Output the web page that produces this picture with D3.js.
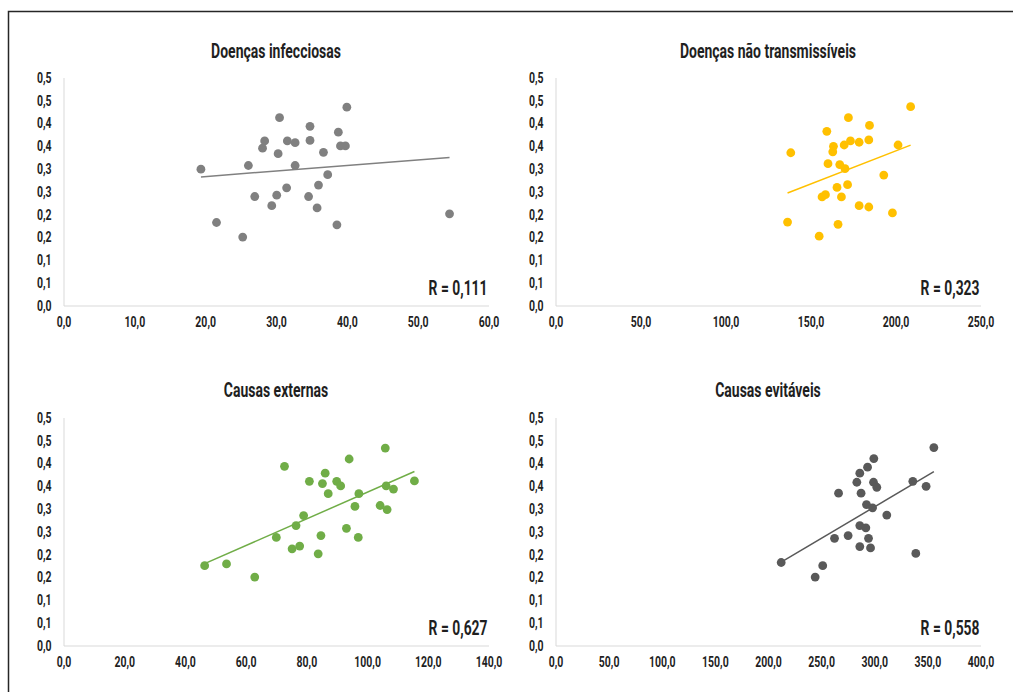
<!DOCTYPE html>
<html>
<head>
<meta charset="utf-8">
<script src="https://cdn.jsdelivr.net/npm/d3@7"></script>
<style>
  html, body { margin: 0; padding: 0; background: #ffffff; }
  svg { display: block; }
  text { font-family: Roboto, "Liberation Sans", sans-serif; font-weight: bold; fill: #1f1f1f; }
</style>
</head>
<body>
<svg id="chart" width="1013" height="692"></svg>
<script>
// Shared y values: proportion (0–0.5), one per state
// Panel 1 — Doenças infecciosas
const infecX = [19.4, 21.6, 25.3, 26.1, 27.0, 28.1, 28.4, 29.4, 30.1, 30.3, 30.5, 31.5, 31.6, 32.7, 32.7, 34.6, 34.8, 34.8, 35.8, 36.0, 36.7, 37.3, 38.6, 38.8, 39.1, 39.8, 40.0, 54.5];
const infecY = [0.299, 0.182, 0.150, 0.307, 0.239, 0.345, 0.361, 0.219, 0.242, 0.333, 0.412, 0.258, 0.361, 0.357, 0.307, 0.239, 0.362, 0.393, 0.214, 0.264, 0.336, 0.287, 0.177, 0.380, 0.350, 0.350, 0.435, 0.201];

// Panel 2 — Doenças não transmissíveis
const dntX = [136.5, 138.4, 155.1, 156.8, 158.8, 159.6, 160.3, 163.1, 163.5, 165.6, 166.2, 167.2, 168.2, 169.8, 170.3, 171.8, 172.3, 173.5, 178.6, 178.6, 184.3, 184.3, 184.7, 193.1, 198.2, 201.5, 208.9];
const dntY = [0.183, 0.335, 0.152, 0.238, 0.243, 0.382, 0.311, 0.337, 0.349, 0.259, 0.178, 0.309, 0.238, 0.352, 0.300, 0.265, 0.412, 0.361, 0.358, 0.219, 0.363, 0.216, 0.395, 0.286, 0.203, 0.352, 0.436];

// Panel 3 — Causas externas
const extX = [46.5, 53.7, 63.0, 70.1, 72.8, 75.3, 76.6, 77.8, 79.1, 81.0, 83.9, 84.8, 85.3, 86.2, 87.2, 90.0, 91.3, 93.2, 94.1, 96.0, 97.1, 97.3, 104.3, 106.0, 106.3, 106.6, 108.7, 115.6];
const extY = [0.175, 0.179, 0.150, 0.237, 0.393, 0.212, 0.263, 0.218, 0.285, 0.360, 0.201, 0.241, 0.355, 0.378, 0.333, 0.360, 0.350, 0.257, 0.409, 0.305, 0.237, 0.333, 0.307, 0.433, 0.350, 0.298, 0.343, 0.361];

// Panel 4 — Causas evitáveis
const evitX = [212.4, 244.4, 251.5, 262.6, 266.4, 275.4, 283.6, 286.4, 286.4, 286.4, 287.6, 292.1, 292.7, 293.7, 294.6, 296.5, 298.4, 299.3, 299.6, 302.4, 311.8, 336.3, 339.1, 348.8, 356.1];
const evitY = [0.182, 0.150, 0.175, 0.235, 0.334, 0.241, 0.358, 0.378, 0.263, 0.217, 0.334, 0.258, 0.309, 0.391, 0.235, 0.214, 0.302, 0.358, 0.410, 0.347, 0.286, 0.360, 0.202, 0.349, 0.434];

const titles = ["Doenças infecciosas", "Doenças não transmissíveis", "Causas externas", "Causas evitáveis"];
const rLabels = ["R = 0,111", "R = 0,323", "R = 0,627", "R = 0,558"];
const xMax = [60, 250, 140, 400];
const xStep = [10, 50, 20, 50];
const yTicks = [0, 0.05, 0.10, 0.15, 0.20, 0.25, 0.30, 0.35, 0.40, 0.45, 0.50];
const yTickLabels = ["0,0", "0,1", "0,1", "0,2", "0,2", "0,3", "0,3", "0,4", "0,4", "0,5", "0,5"];
const colors = ["#808080", "#ffc000", "#70ad47", "#595959"];

const seriesX = [infecX, dntX, extX, evitX];
const seriesY = [infecY, dntY, extY, evitY];

const svg = d3.select("#chart");

// horizontally condense text around its anchor x
function condense(sel, sx) {
  sel.each(function () {
    const t = d3.select(this);
    const x0 = +(t.attr("x") || 0);
    t.attr("x", x0 / sx).attr("transform", `scale(${sx},1)`);
  });
}

// outer frame
svg.append("rect")
  .attr("x", 8.5).attr("y", 11.5)
  .attr("width", 1010).attr("height", 700)
  .attr("fill", "none").attr("stroke", "#262626").attr("stroke-width", 1.5);

// plot areas (pixel edges) and title anchors
const panels = [
  { l: 63.5, r: 488.5, t: 77.5, b: 305.5, tx: 276, ty: 58 },
  { l: 555.5, r: 980.5, t: 77.5, b: 305.5, tx: 768, ty: 58 },
  { l: 63.5, r: 488.5, t: 417.5, b: 645.5, tx: 276, ty: 397 },
  { l: 555.5, r: 980.5, t: 417.5, b: 645.5, tx: 768, ty: 397 }
];

const fmtX = v => d3.format(".1f")(v).replace(".", ",");

panels.forEach((p, i) => {
  const g = svg.append("g");
  const x = d3.scaleLinear().domain([0, xMax[i]]).range([p.l, p.r]);
  const y = d3.scaleLinear().domain([0, 0.5]).range([p.b, p.t]);

  // title
  const title = g.append("text")
    .attr("x", p.tx).attr("y", p.ty)
    .attr("text-anchor", "middle")
    .style("font-size", "20px")
    .text(titles[i]);
  condense(title, 0.70);

  // y axis
  const yAxis = d3.axisLeft(y).tickValues(yTicks).tickSize(0).tickPadding(12)
    .tickFormat((d, k) => yTickLabels[k]);
  const ya = g.append("g").attr("transform", `translate(${p.l},0)`).call(yAxis);
  ya.select(".domain").attr("stroke", "#d9d9d9");
  ya.selectAll("text").style("font-size", "15px").attr("fill", "#1f1f1f");
  condense(ya.selectAll("text"), 0.70);

  // x axis
  const xAxis = d3.axisBottom(x).tickValues(d3.range(0, xMax[i] + 0.001, xStep[i]))
    .tickSize(0).tickPadding(11).tickFormat(fmtX);
  const xa = g.append("g").attr("transform", `translate(0,${p.b})`).call(xAxis);
  xa.select(".domain").attr("stroke", "#d9d9d9");
  xa.selectAll("text").style("font-size", "15px").attr("fill", "#1f1f1f");
  condense(xa.selectAll("text"), 0.70);

  // linear trendline (least squares)
  const xs = seriesX[i], ys = seriesY[i];
  const mx = d3.mean(xs), my = d3.mean(ys);
  const slope = d3.sum(xs, (v, k) => (v - mx) * (ys[k] - my)) / d3.sum(xs, v => (v - mx) * (v - mx));
  const icpt = my - slope * mx;
  const [x0, x1] = d3.extent(xs);
  g.append("line")
    .attr("x1", x(x0)).attr("y1", y(icpt + slope * x0))
    .attr("x2", x(x1)).attr("y2", y(icpt + slope * x1))
    .attr("stroke", colors[i]).attr("stroke-width", 1.5);

  // points
  g.selectAll("circle")
    .data(xs.map((v, k) => [v, ys[k]]))
    .join("circle")
    .attr("cx", d => x(d[0])).attr("cy", d => y(d[1]))
    .attr("r", 4.4)
    .attr("fill", colors[i]);

  // correlation label
  const rl = g.append("text")
    .attr("x", p.r - 1).attr("y", p.b - 10)
    .attr("text-anchor", "end")
    .style("font-size", "21px")
    .text(rLabels[i]);
  condense(rl, 0.66);
});
</script>
</body>
</html>
